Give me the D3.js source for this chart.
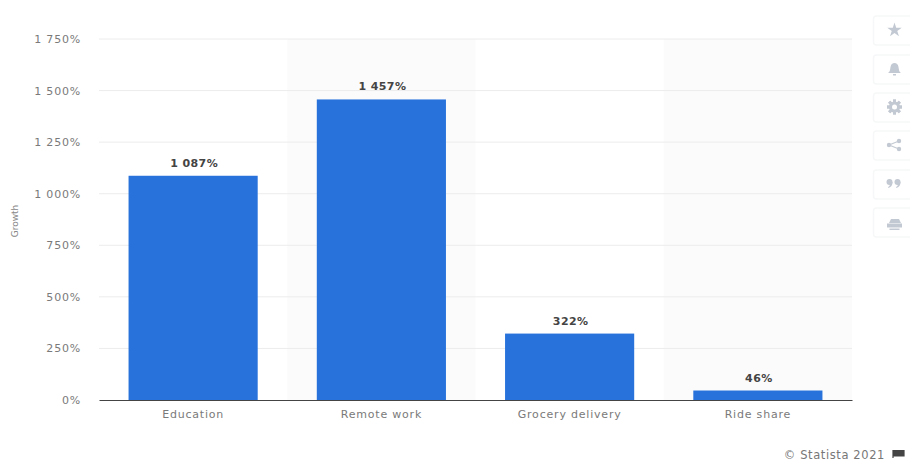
<!DOCTYPE html>
<html>
<head>
<meta charset="utf-8">
<script src="https://cdn.jsdelivr.net/npm/d3@7"></script>
<style>
  html, body { margin: 0; padding: 0; background: #fff; }
  svg { display: block; }
  text { font-family: "DejaVu Sans", sans-serif; }
</style>
</head>
<body>
<svg id="chart" width="910" height="461"></svg>
<script>
var categories = ["Education", "Remote work", "Grocery delivery", "Ride share"];
var growth = [1087, 1457, 322, 46];
var valueLabels = ["1 087%", "1 457%", "322%", "46%"];
var yTicks = [0, 250, 500, 750, 1000, 1250, 1500, 1750];
var yTickLabels = ["0%", "250%", "500%", "750%", "1 000%", "1 250%", "1 500%", "1 750%"];

var svg = d3.select("#chart");
var plotLeft = 99, plotRight = 852, plotTop = 39, plotBottom = 400;

var x = d3.scaleBand().domain(categories).range([plotLeft, plotRight]).paddingInner(0.314).paddingOuter(0.157);
var y = d3.scaleLinear().domain([0, 1750]).range([plotBottom, plotTop]);
var step = x.step();

// alternate column shading
svg.append("g").selectAll("rect")
  .data(categories.filter(function(d, i) { return i % 2 == 1; }))
  .enter().append("rect")
  .attr("x", function(d) { return x(d) + x.bandwidth() / 2 - step / 2; })
  .attr("y", plotTop)
  .attr("width", step)
  .attr("height", plotBottom - plotTop)
  .attr("fill", "#fbfbfb");

// gridlines
svg.append("g").selectAll("line")
  .data(yTicks.slice(1))
  .enter().append("line")
  .attr("x1", plotLeft).attr("x2", plotRight)
  .attr("y1", function(d) { return y(d); })
  .attr("y2", function(d) { return y(d); })
  .attr("stroke", "#ececec")
  .attr("stroke-width", 1);

var yAxis = d3.axisLeft(y).tickValues(yTicks).tickSize(0).tickPadding(0)
  .tickFormat(function(d, i) { return yTickLabels[i]; });
var yG = svg.append("g").attr("transform", "translate(81,0)").call(yAxis);
yG.select(".domain").remove();
yG.selectAll("text").attr("font-size", 11).attr("fill", "#7a7a7a").attr("letter-spacing", 0.8);

svg.append("text")
  .attr("transform", "translate(18,221) rotate(-90)")
  .attr("text-anchor", "middle")
  .attr("font-size", 9)
  .attr("fill", "#888")
  .text("Growth");

svg.append("g").selectAll("rect")
  .data(categories)
  .enter().append("rect")
  .attr("x", function(d) { return x(d); })
  .attr("y", function(d, i) { return y(growth[i]); })
  .attr("width", x.bandwidth())
  .attr("height", function(d, i) { return plotBottom - y(growth[i]); })
  .attr("fill", "#2872dc");

svg.append("g").selectAll("text")
  .data(categories)
  .enter().append("text")
  .attr("x", function(d) { return x(d) + x.bandwidth() / 2 + 1; })
  .attr("y", function(d, i) { return y(growth[i]) - 9; })
  .attr("text-anchor", "middle")
  .attr("font-size", 11)
  .attr("font-weight", "bold")
  .attr("letter-spacing", 0.4)
  .attr("fill", "#444")
  .text(function(d, i) { return valueLabels[i]; });

var xAxis = d3.axisBottom(x).tickSize(0).tickPadding(10);
var xG = svg.append("g").attr("transform", "translate(0," + plotBottom + ")").call(xAxis);
xG.select(".domain").attr("stroke", "#444").attr("stroke-width", 1.2);
xG.selectAll("text").attr("font-size", 11).attr("fill", "#7a7a7a").attr("letter-spacing", 0.8);

// statista credit
svg.append("text")
  .attr("x", 885).attr("y", 459)
  .attr("text-anchor", "end")
  .attr("font-size", 11.5)
  .attr("fill", "#777")
  .attr("letter-spacing", 0.6)
  .text("© Statista 2021");
svg.append("path")
  .attr("d", "M893 450v8M893 450.5h11v5.500h-11")
  .attr("fill", "#444").attr("stroke", "#444").attr("stroke-width", 1.2);

// side toolbar
var cardTops = [16, 55, 93, 131, 170, 208];
svg.append("g").selectAll("rect").data(cardTops).enter().append("rect")
  .attr("x", 873.5).attr("y", function(d) { return d; })
  .attr("width", 50).attr("height", 29).attr("rx", 3)
  .attr("fill", "#fff").attr("stroke", "#f6f7f8").attr("stroke-width", 1.5);

var iconColor = "#c3c9d2";
var icons = svg.append("g").attr("fill", iconColor);
icons.append("path")
  .attr("transform", "translate(894.5,30)")
  .attr("d", d3.symbol().type(d3.symbolStar).size(65)());
icons.append("path")
  .attr("d", "M888 73c2-1 2-3 2.5-6c.5-3 2-4 4-4s3.500 1 4 4c.5 3 .5 5 2.500 6zM893 74h3v1.500h-3z");
// gear with teeth
d3.range(8).forEach(function(i) {
  icons.append("rect")
    .attr("x", -1.5).attr("y", -7.5).attr("width", 3).attr("height", 15)
    .attr("transform", "translate(894.5,107) rotate(" + i * 45 + ")");
});
icons.append("circle").attr("cx", 894.5).attr("cy", 107).attr("r", 5.5);
icons.append("circle").attr("cx", 894.5).attr("cy", 107).attr("r", 2.5).attr("fill", "#fff");
icons.append("path")
  .attr("d", "M889 145L899 141M889 145L899 149")
  .attr("stroke", iconColor).attr("stroke-width", 1.2);
[[889, 145], [899, 141], [899, 149]].forEach(function(p) {
  icons.append("circle").attr("cx", p[0]).attr("cy", p[1]).attr("r", 2.2);
});
// quote marks
[889.5, 897.5].forEach(function(cx) {
  icons.append("circle").attr("cx", cx).attr("cy", 182).attr("r", 3);
  icons.append("path").attr("d", "M" + (cx + 1) + " 182h2c0 3-1 5-4 6l-.5-1c1.500-.5 2-2 2-3z");
});
icons.append("path")
  .attr("d", "M891 219h8l2 4h-12zM887 223.5h15v4h-15zM889.5 228.5h10v1.500h-10z");
</script>
</body>
</html>
